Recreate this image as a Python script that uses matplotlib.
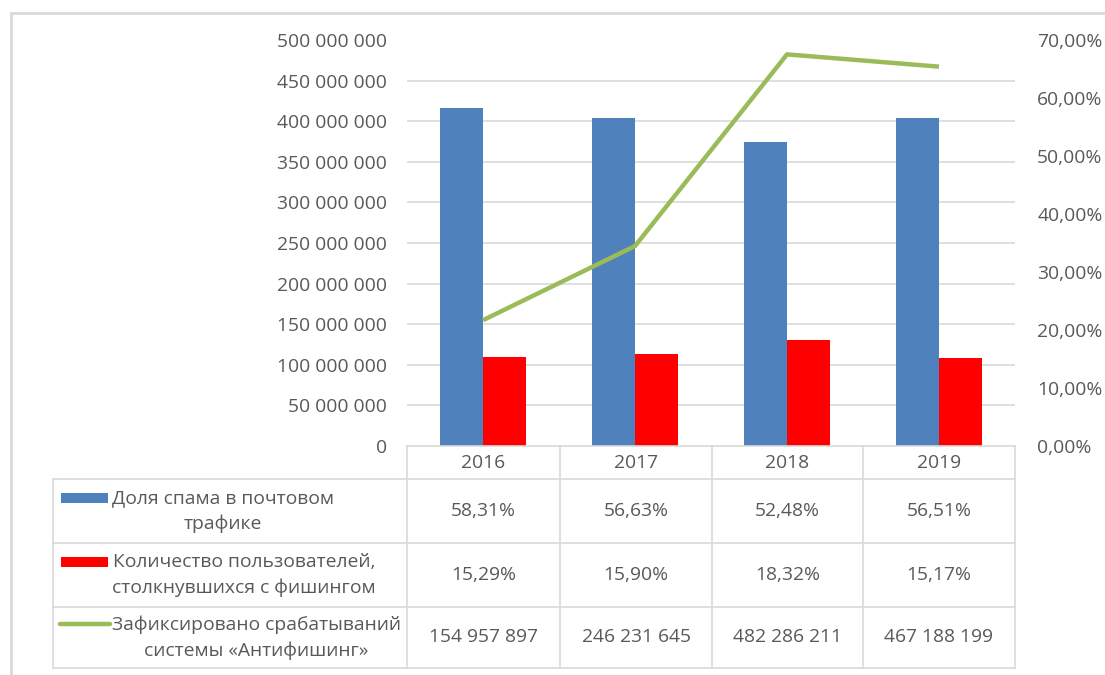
import numpy as np
import matplotlib
matplotlib.use("Agg")
import matplotlib.pyplot as plt
from matplotlib.lines import Line2D
from matplotlib.ticker import FixedLocator

# данные
years = ["2016", "2017", "2018", "2019"]
spam_share = [58.31, 56.63, 52.48, 56.51]          # Доля спама, %
phishing_users = [15.29, 15.90, 18.32, 15.17]      # Количество пользователей, %
antiphishing = [154957897, 246231645, 482286211, 467188199]

row_labels = ["Доля спама в почтовом\nтрафике",
              "Количество пользователей,\nстолкнувшихся с фишингом",
              "Зафиксировано срабатываний\nсистемы «Антифишинг»"]

blue = "#4F81BD"
red = "#FF0000"
green = "#9BBB59"
txt = "#595959"
grid_c = "#D9D9D9"
fs = 13.9

plt.rcParams['font.family'] = ['Open Sans', 'DejaVu Sans']

W, H = 1105, 675
fig = plt.figure(figsize=(W / 100, H / 100), dpi=100)


def fx(px):
    return px / W


def fy(py):
    return 1 - py / H


# область построения: x 407..1015, y 40..446 (пиксели)
ax = fig.add_axes([fx(407), fy(446), fx(1015 - 407), (446 - 40) / H])
ax2 = ax.twinx()
ax2.set_zorder(ax.get_zorder() + 1)
ax2.patch.set_visible(False)

x = np.arange(len(years))
bw = 0.286
spam_frac = np.array(spam_share) / 100
phish_frac = np.array(phishing_users) / 100
ax.bar(x - bw / 2, spam_frac, bw, color=blue, zorder=3)
ax.bar(x + bw / 2, phish_frac, bw, color=red, zorder=3)
ax.set_ylim(0, 0.7)
ax.set_xlim(-0.5, len(years) - 0.5)
ax.yaxis.tick_right()
ax.set_yticks(np.arange(0, 0.71, 0.1))
ax.set_yticklabels([f"{v * 100:.2f}%".replace('.', ',') for v in np.arange(0, 0.71, 0.1)])
ax.yaxis.set_minor_locator(FixedLocator(np.linspace(0, 0.7, 11)))
ax.grid(which='minor', axis='y', color=grid_c, lw=1.2, zorder=0)
ax.set_axisbelow(True)
ax.tick_params(axis='y', which='both', length=0, pad=16, labelsize=fs, labelcolor=txt)
ax.tick_params(axis='x', length=0, labelbottom=False)

ax2.plot(x, antiphishing, color=green, lw=3.2, solid_capstyle='butt', zorder=4)
ax2.set_ylim(0, 500000000)
ax2.yaxis.tick_left()
lt = np.arange(0, 500000001, 50000000)
ax2.set_yticks(lt)
ax2.set_yticklabels([f"{v:,.0f}".replace(',', ' ') for v in lt])
ax2.tick_params(axis='y', length=0, pad=14.5, labelsize=fs, labelcolor=txt)
ax2.tick_params(axis='x', length=0, labelbottom=False)

for a in (ax, ax2):
    for s in a.spines.values():
        s.set_visible(False)


def hline(y, x0, x1, lw=1.2, c=grid_c):
    fig.add_artist(Line2D([fx(x0), fx(x1)], [fy(y), fy(y)], color=c, lw=lw))


def vline(xp, y0, y1, lw=1.2, c=grid_c):
    fig.add_artist(Line2D([fx(xp), fx(xp)], [fy(y0), fy(y1)], color=c, lw=lw))


# рамка области диаграммы
hline(13, 11, W, lw=2)
vline(11, 13, H, lw=2)

# таблица данных
col_x = [407, 560, 712, 863, 1015]
row_y = [446, 479, 543, 607, 668]
hline(446, 407, 1015)
for yy in row_y[1:]:
    hline(yy, 53, 1015)
for xx in col_x:
    vline(xx, 446, 668)
vline(53, 479, 668)

for i, yr in enumerate(years):
    cx = (col_x[i] + col_x[i + 1]) / 2
    fig.text(fx(cx), fy((row_y[0] + row_y[1]) / 2), yr, ha='center', va='center',
             fontsize=fs, color=txt)
    cells = [f"{spam_share[i]:.2f}%".replace('.', ','),
             f"{phishing_users[i]:.2f}%".replace('.', ','),
             f"{antiphishing[i]:,.0f}".replace(',', ' ')]
    for r, val in enumerate(cells):
        cy = (row_y[r + 1] + row_y[r + 2]) / 2
        fig.text(fx(cx), fy(cy), val, ha='center', va='center', fontsize=fs, color=txt)

key_styles = [("bar", blue), ("bar", red), ("line", green)]
for r, (lab, (kind, col)) in enumerate(zip(row_labels, key_styles)):
    cy = (row_y[r + 1] + row_y[r + 2]) / 2
    ky = cy - 13.5
    if kind == "bar":
        fig.add_artist(plt.Rectangle((fx(61), fy(ky + 5)), fx(47), 10 / H, color=col, lw=0))
    else:
        fig.add_artist(Line2D([fx(60), fx(110)], [fy(ky), fy(ky)], color=col, lw=3.2,
                              solid_capstyle='round'))
    fig.text(fx(112), fy(cy), lab, ha='left', va='center', multialignment='center',
             fontsize=fs, color=txt, linespacing=1.5)

fig.savefig("out.png", dpi=100)
